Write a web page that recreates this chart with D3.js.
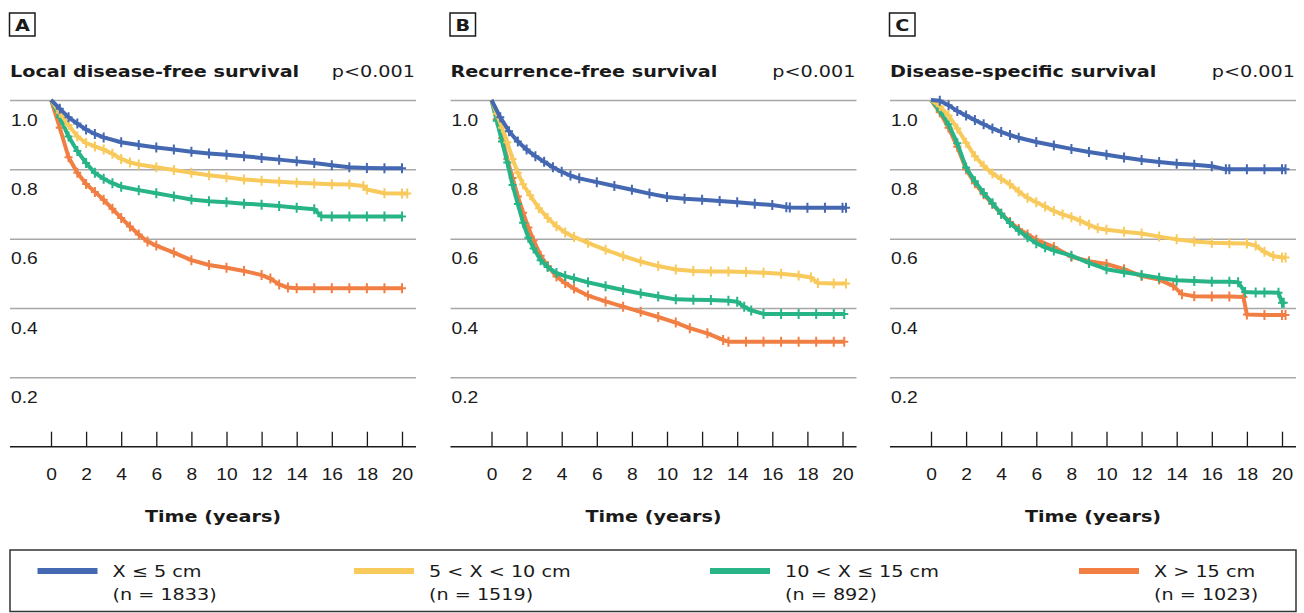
<!DOCTYPE html>
<html>
<head>
<meta charset="utf-8">
<script src="https://cdn.jsdelivr.net/npm/d3@7"></script>
<style>
  body { margin: 0; background: #fff; }
  svg { display: block; font-family: 'DejaVu Sans', Verdana, sans-serif; }
</style>
</head>
<body>
<svg id="chart" width="1304" height="613"></svg>
<script>
// Groups (tumour size) and their sizes
const groups = ['X \u2264 5 cm', '5 < X < 10 cm', '10 < X \u2264 15 cm', 'X > 15 cm'];
const groupN = [1833, 1519, 892, 1023];
const colors = ['#4468b1', '#f8c95b', '#27b487', '#f17f44'];

const panelLetters = ['A', 'B', 'C'];
const panelTitles = ['Local disease-free survival', 'Recurrence-free survival', 'Disease-specific survival'];
const pValues = ['p<0.001', 'p<0.001', 'p<0.001'];

const xTicks = [0, 2, 4, 6, 8, 10, 12, 14, 16, 18, 20];
const yTicks = [0.2, 0.4, 0.6, 0.8, 1.0];

// Panel A: local disease-free survival, [years, survival]
const ldfsLe5 = [[0,1],[0.5,0.975],[1,0.95],[1.5,0.932],[2,0.915],[2.5,0.902],[3,0.892],[4,0.878],[5,0.87],[6,0.863],[7,0.857],[8,0.851],[9,0.846],[10,0.842],[11,0.838],[12,0.833],[13,0.828],[14,0.823],[15,0.818],[16,0.812],[17,0.806],[18,0.804],[19,0.803],[20,0.803]];
const ldfs5to10 = [[0,1],[0.5,0.963],[1,0.928],[1.5,0.895],[2,0.876],[2.5,0.866],[3,0.857],[3.5,0.845],[4,0.83],[4.5,0.82],[5,0.814],[6,0.806],[7,0.798],[8,0.79],[9,0.783],[10,0.777],[11,0.771],[12,0.767],[13,0.764],[14,0.761],[15,0.759],[16,0.757],[17,0.756],[17.8,0.752],[18,0.742],[19,0.731],[20,0.73],[20.3,0.73]];
const ldfs10to15 = [[0,1],[0.5,0.95],[1,0.895],[1.5,0.853],[2,0.818],[2.5,0.79],[3,0.773],[3.5,0.76],[4,0.75],[5,0.74],[6,0.731],[7,0.722],[8,0.713],[9,0.708],[10,0.705],[11,0.701],[12,0.698],[13,0.694],[14,0.689],[15,0.685],[15.4,0.665],[16,0.664],[17,0.664],[18,0.664],[19,0.664],[20,0.664]];
const ldfsGt15 = [[0,1],[0.5,0.92],[1,0.835],[1.5,0.79],[2,0.758],[2.5,0.735],[3,0.712],[3.5,0.686],[4,0.66],[4.5,0.635],[5,0.612],[5.5,0.592],[6,0.58],[7,0.56],[8,0.538],[9,0.524],[10,0.516],[11,0.507],[12,0.495],[12.5,0.485],[13,0.468],[13.5,0.459],[14,0.457],[15,0.457],[16,0.457],[17,0.457],[18,0.457],[19,0.457],[20,0.457]];

// Panel B: recurrence-free survival
const rfsLe5 = [[0,1],[0.5,0.95],[1,0.91],[1.5,0.88],[2,0.857],[2.5,0.838],[3,0.822],[3.5,0.806],[4,0.793],[4.5,0.782],[5,0.774],[6,0.763],[7,0.752],[8,0.741],[9,0.73],[10,0.72],[11,0.715],[12,0.712],[13,0.709],[14,0.705],[15,0.701],[16,0.697],[16.8,0.691],[17,0.69],[18,0.689],[19,0.689],[20,0.689],[20.2,0.689]];
const rfs5to10 = [[0,1],[0.3,0.96],[0.6,0.92],[0.9,0.878],[1.2,0.83],[1.5,0.79],[1.8,0.757],[2.2,0.725],[2.7,0.688],[3.2,0.66],[3.7,0.636],[4.2,0.618],[4.7,0.605],[5.5,0.588],[6.5,0.568],[7.5,0.55],[8.5,0.534],[9.5,0.521],[10.5,0.511],[11.5,0.507],[12.5,0.505],[13.5,0.505],[14.5,0.504],[15.5,0.502],[16.5,0.499],[17.5,0.494],[18.2,0.488],[18.6,0.472],[19.5,0.471],[20.2,0.471]];
const rfs10to15 = [[0,1],[0.3,0.94],[0.6,0.88],[0.9,0.82],[1.2,0.755],[1.5,0.7],[1.8,0.646],[2.1,0.603],[2.4,0.572],[2.8,0.538],[3.2,0.518],[3.7,0.501],[4.2,0.492],[4.7,0.485],[5.5,0.474],[6.5,0.463],[7.5,0.452],[8.5,0.442],[9.5,0.433],[10.5,0.425],[11.5,0.424],[12.5,0.423],[13.5,0.421],[14,0.418],[14.4,0.404],[14.8,0.393],[15.5,0.383],[16.5,0.383],[17.5,0.383],[18.5,0.383],[19.5,0.383],[20.1,0.383]];
const rfsGt15 = [[0,1],[0.3,0.945],[0.6,0.89],[0.9,0.83],[1.2,0.775],[1.5,0.722],[1.8,0.675],[2.1,0.632],[2.4,0.595],[2.8,0.551],[3.2,0.521],[3.7,0.491],[4.2,0.472],[4.7,0.456],[5.5,0.436],[6.5,0.419],[7.5,0.404],[8.5,0.389],[9.5,0.374],[10.5,0.358],[11.3,0.342],[12.3,0.327],[13.2,0.308],[13.5,0.303],[14.5,0.303],[15.5,0.303],[16.5,0.303],[17.5,0.303],[18.5,0.303],[19.5,0.303],[20.1,0.303]];

// Panel C: disease-specific survival
const dssLe5 = [[0,1],[0.5,0.998],[1,0.985],[1.5,0.968],[2,0.955],[2.5,0.942],[3,0.93],[3.5,0.918],[4,0.908],[4.5,0.899],[5,0.891],[6,0.879],[7,0.869],[8,0.859],[9,0.85],[10,0.842],[11,0.834],[12,0.827],[13,0.821],[14,0.816],[15,0.813],[16,0.809],[16.8,0.8],[17,0.8],[18,0.8],[19,0.8],[20,0.8],[20.2,0.8]];
const dss5to10 = [[0,1],[0.5,0.982],[1,0.955],[1.5,0.918],[2,0.877],[2.5,0.838],[3,0.81],[3.5,0.788],[4,0.772],[4.5,0.757],[5,0.736],[5.5,0.718],[6,0.705],[6.5,0.693],[7,0.68],[7.5,0.67],[8,0.662],[8.5,0.652],[9,0.64],[9.5,0.63],[10,0.626],[11,0.62],[12,0.615],[13,0.606],[14,0.598],[15,0.592],[16,0.588],[17,0.587],[18,0.586],[18.5,0.58],[19,0.562],[19.5,0.55],[20,0.546],[20.2,0.546]];
const dss10to15 = [[0,1],[0.5,0.97],[1,0.93],[1.5,0.875],[2,0.805],[2.5,0.766],[3,0.732],[3.5,0.702],[4,0.672],[4.5,0.645],[5,0.623],[5.5,0.604],[6,0.587],[6.5,0.575],[7,0.566],[8,0.551],[9,0.53],[10,0.512],[11,0.503],[12,0.495],[13,0.487],[14,0.48],[15,0.478],[16,0.476],[17,0.476],[17.5,0.474],[17.9,0.446],[18.5,0.445],[19,0.445],[19.8,0.444],[20,0.415],[20.1,0.415]];
const dssGt15 = [[0,1],[0.5,0.965],[1,0.92],[1.5,0.865],[2,0.8],[2.5,0.76],[3,0.728],[3.5,0.7],[4,0.672],[4.5,0.648],[5,0.628],[5.5,0.612],[6,0.597],[7,0.576],[8,0.548],[9,0.535],[10,0.527],[11,0.512],[12,0.492],[13,0.482],[13.8,0.464],[14.3,0.44],[15,0.434],[16,0.433],[17,0.433],[17.8,0.432],[18,0.381],[19,0.38],[20,0.38],[20.2,0.38]];

const panelSeries = [
  [ldfsLe5, ldfs5to10, ldfs10to15, ldfsGt15],
  [rfsLe5, rfs5to10, rfs10to15, rfsGt15],
  [dssLe5, dss5to10, dss10to15, dssGt15]
];

// layout
const SX = 1.2; // source text is drawn a bit wide
const panelOffset = [0, 440.5, 880];
const gridX1 = 10, gridX2 = 416;
const plotX0 = 51, plotX20 = 402;
const yTop = 100, yBottom = 446.7;
const drawOrder = [3, 2, 1, 0];
const legendX = [37.5, 354, 710, 1079];

const svg = d3.select('#chart');

function addText(g, x, y, str, size, weight, anchor) {
  return g.append('text')
    .attr('transform', `translate(${x},${y}) scale(${SX},1)`)
    .attr('font-size', size)
    .attr('font-weight', weight || 'normal')
    .attr('text-anchor', anchor || 'start')
    .attr('fill', '#1a1a1a')
    .text(str);
}

const y = d3.scaleLinear().domain([0, 1]).range([yBottom, yTop]);

panelSeries.forEach((seriesList, p) => {
  const g = svg.append('g').attr('transform', `translate(${panelOffset[p]},0)`);
  const x = d3.scaleLinear().domain([0, 20]).range([plotX0, plotX20]);

  // panel letter box
  g.append('rect')
    .attr('x', 9.5).attr('y', 13).attr('width', 25.5).attr('height', 23)
    .attr('fill', '#fff').attr('stroke', '#1a1a1a').attr('stroke-width', 1.5);
  addText(g, 22.3, 30.7, panelLetters[p], 16, 'bold', 'middle');

  // title and p value
  addText(g, gridX1, 77.3, panelTitles[p], 16, 'bold');
  addText(g, gridX2 - 1, 77.3, pValues[p], 16, 'normal', 'end');

  // horizontal gridlines with labels below them
  const yAxis = g.append('g')
    .attr('transform', `translate(${gridX1},0)`)
    .call(d3.axisRight(y).tickValues(yTicks).tickSize(gridX2 - gridX1).tickFormat(d3.format('.1f')));
  yAxis.select('.domain').remove();
  yAxis.selectAll('.tick line').attr('stroke', '#a8a8a8').attr('stroke-width', 1.5);
  yAxis.selectAll('.tick text')
    .attr('x', null).attr('dy', null)
    .attr('transform', `translate(1,25) scale(${SX},1)`)
    .attr('text-anchor', 'start')
    .attr('font-size', 16).attr('fill', '#1a1a1a')
    .attr('font-family', null);

  // x axis, ticks pointing up
  g.append('line')
    .attr('x1', gridX1).attr('x2', gridX2)
    .attr('y1', yBottom).attr('y2', yBottom)
    .attr('stroke', '#1a1a1a').attr('stroke-width', 1.5);
  const xAxis = g.append('g')
    .attr('transform', `translate(0,${yBottom})`)
    .call(d3.axisBottom(x).tickValues(xTicks).tickSizeInner(-15).tickSizeOuter(0).tickPadding(20));
  xAxis.select('.domain').remove();
  xAxis.selectAll('.tick line').attr('stroke', '#1a1a1a').attr('stroke-width', 1.3);
  xAxis.selectAll('.tick text')
    .attr('y', null).attr('dy', null)
    .attr('transform', `translate(0,33.5) scale(${SX},1)`)
    .attr('font-size', 16).attr('fill', '#1a1a1a')
    .attr('font-family', null);

  addText(g, (gridX1 + gridX2) / 2, 521.7, 'Time (years)', 16, 'bold', 'middle');

  // survival curves with censoring marks
  const line = d3.line().x(d => x(d[0])).y(d => y(d[1]));
  drawOrder.forEach(i => {
    const data = seriesList[i];
    const sg = g.append('g');
    sg.append('path')
      .datum(data)
      .attr('d', line)
      .attr('fill', 'none')
      .attr('stroke', colors[i])
      .attr('stroke-width', 4)
      .attr('stroke-linejoin', 'round');
    sg.selectAll('path.mark')
      .data(data.filter(d => d[0] > 0))
      .join('path')
      .attr('class', 'mark')
      .attr('d', d => {
        const cx = x(d[0]), cy = y(d[1]);
        return `M${cx - 4},${cy}H${cx + 4}M${cx},${cy - 5}V${cy + 5}`;
      })
      .attr('stroke', colors[i])
      .attr('stroke-width', 2)
      .attr('fill', 'none');
  });
});

// legend
const lg = svg.append('g');
lg.append('rect')
  .attr('x', 10).attr('y', 550).attr('width', 1286).attr('height', 61.5)
  .attr('fill', '#fff').attr('stroke', '#333').attr('stroke-width', 1.5);
groups.forEach((name, i) => {
  lg.append('line')
    .attr('x1', legendX[i]).attr('x2', legendX[i] + 60)
    .attr('y1', 571).attr('y2', 571)
    .attr('stroke', colors[i]).attr('stroke-width', 6);
  addText(lg, legendX[i] + 75, 577, name, 16);
  addText(lg, legendX[i] + 75, 600, `(n = ${groupN[i]})`, 16);
});
</script>
</body>
</html>
